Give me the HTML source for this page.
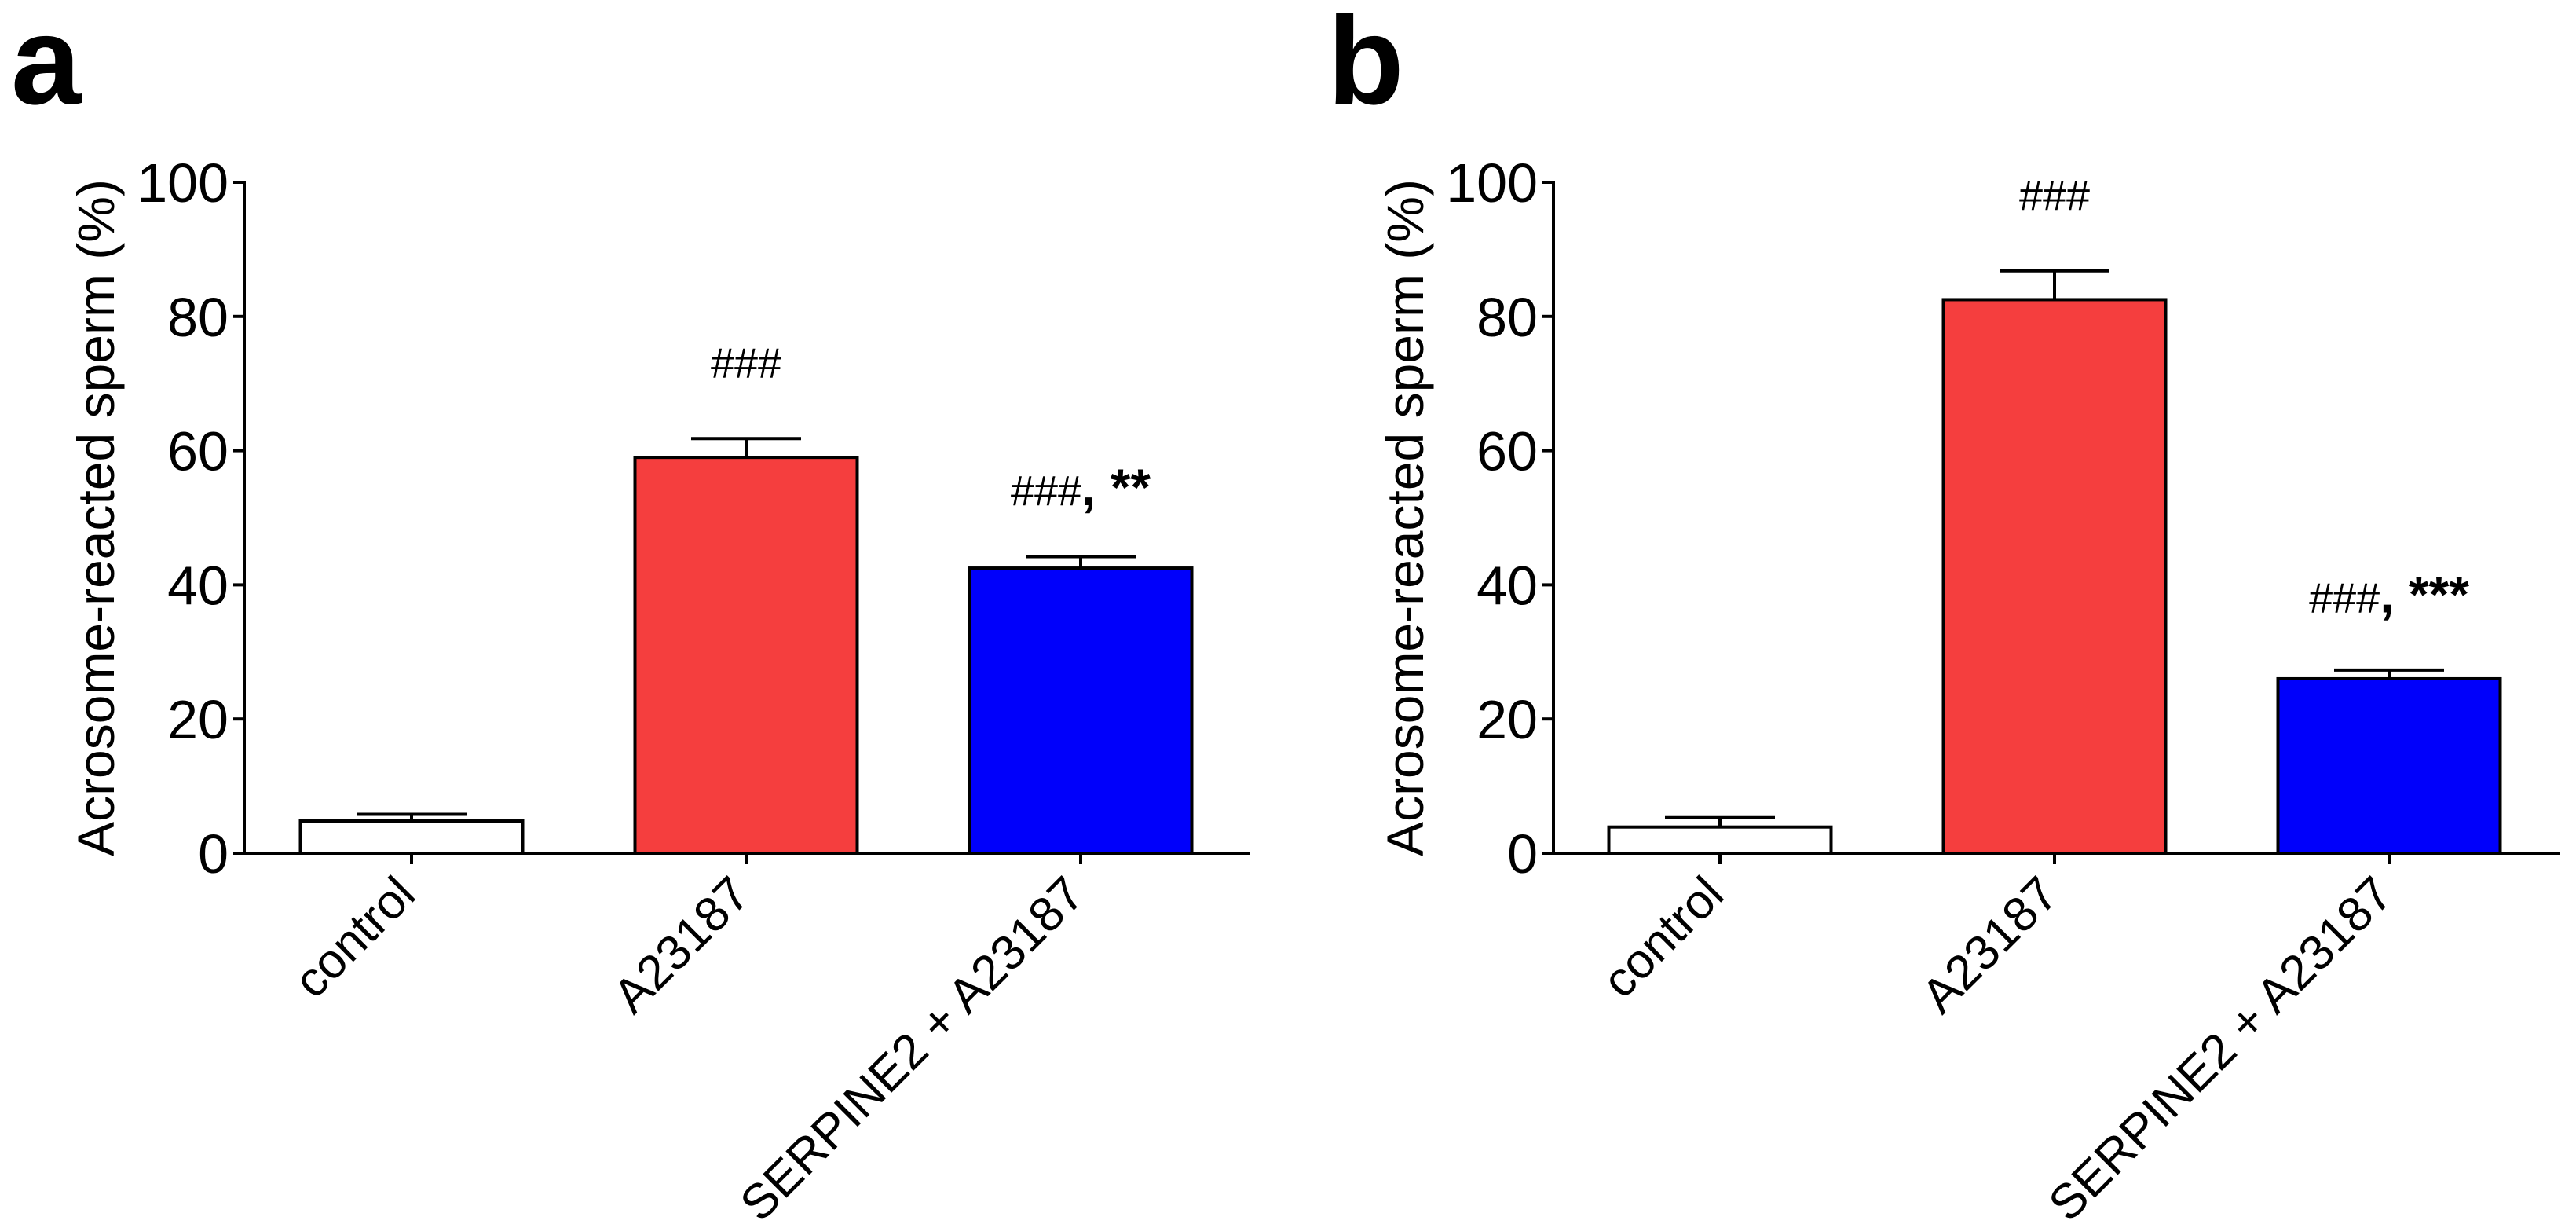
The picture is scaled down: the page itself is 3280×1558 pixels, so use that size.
<!DOCTYPE html>
<html><head><meta charset="utf-8"><style>
html,body{margin:0;padding:0;background:#fff;}
svg{display:block;font-family:"Liberation Sans",Arial,sans-serif;}
</style></head><body>
<svg id="chart" width="3280" height="1558" viewBox="0 0 3280 1558" xmlns="http://www.w3.org/2000/svg">
<text x="14" y="132" font-size="160" font-weight="bold">a</text>
<text x="1690" y="132" font-size="160" font-weight="bold">b</text>
</svg>
<script>
const categories = ["control", "A23187", "SERPINE2 + A23187"];
const valuesA = [4.8, 59, 42.5];
const errorsA = [1.0, 2.8, 1.7];
const valuesB = [3.9, 82.5, 26];
const errorsB = [1.4, 4.3, 1.3];
const annotA = ["", "###", "###, **"];
const annotB = ["", "###", "###, ***"];
const annotYA = [0, 73, 54];
const annotYB = [0, 98, 38];
const yTicks = [0, 20, 40, 60, 80, 100];
const colors = ["#ffffff", "#f53e3e", "#0000fb"];

const svg = document.getElementById('chart');
const NS = "http://www.w3.org/2000/svg";
function mk(tag, attrs, parent) {
  const e = document.createElementNS(NS, tag);
  for (const k in attrs) e.setAttribute(k, attrs[k]);
  (parent || svg).appendChild(e);
  return e;
}

function panel(id, axisX, xEnd, firstCenter, values, errors, annots, annotY) {
  const y0 = 1086, y100 = 232;
  const yScale = v => y0 - (v / 100) * (y0 - y100);
  const spacing = 426, bw = 283;
  const xScale = i => firstCenter + i * spacing;
  const g = mk('g', {});
  
  

  const yax = mk('line', {x1: axisX, y1: y100 - 2, x2: axisX, y2: y0, stroke: '#000', 'stroke-width': 4}, g);
  
  
  const xax = mk('line', {x1: axisX - 12, y1: y0, x2: xEnd, y2: y0, stroke: '#000', 'stroke-width': 4}, g);
  
  

  yTicks.forEach(t => {
    const y = yScale(t);
    mk('line', {x1: axisX - 14, y1: y, x2: axisX, y2: y, stroke: '#000', 'stroke-width': 4}, g);
    const tl = mk('text', {x: axisX - 20, y: y + 25, 'font-size': 70, 'text-anchor': 'end'}, g);
    
    
    tl.textContent = t;
  });

  const ty = mk('text', {x: 0, y: 0, 'font-size': 66, 'text-anchor': 'middle',
    transform: `translate(${axisX - 166},${(y0 + y100) / 2}) rotate(-90)`}, g);
  
  
  ty.textContent = 'Acrosome-reacted sperm (%)';

  categories.forEach((c, i) => {
    const cx = xScale(i);
    const top = yScale(values[i]);
    const eTop = yScale(values[i] + errors[i]);
    const el = mk('line', {x1: cx, y1: top, x2: cx, y2: eTop, stroke: '#000', 'stroke-width': 4}, g);
    
    
    mk('line', {x1: cx - 70, y1: eTop, x2: cx + 70, y2: eTop, stroke: '#000', 'stroke-width': 4}, g);
    const r = mk('rect', {x: cx - bw / 2, y: top, width: bw, height: y0 - top, fill: colors[i], stroke: '#000', 'stroke-width': 4}, g);
    
    
    mk('line', {x1: cx, y1: y0, x2: cx, y2: y0 + 14, stroke: '#000', 'stroke-width': 4}, g);
    const lbl = mk('text', {x: 0, y: 0, 'font-size': 62, 'text-anchor': 'end',
      transform: `translate(${cx + 8},${y0 + 56}) rotate(-45)`}, g);
    
    
    lbl.textContent = c;
    if (annots[i]) {
      const a = mk('text', {x: cx, y: yScale(annotY[i]) + 18, 'font-size': 54, 'text-anchor': 'middle'}, g);
      
      
      const parts = annots[i].split(', ');
      const s1 = mk('tspan', {}, a); s1.textContent = parts[0];
      if (parts[1]) {
        const s2 = mk('tspan', {'font-weight': 'bold', 'font-size': 66}, a);
        s2.textContent = ', ' + parts[1];
      }
    }
  });
}
panel('a', 311, 1592, 524, valuesA, errorsA, annotA, annotYA);
panel('b', 1978, 3259, 2190, valuesB, errorsB, annotB, annotYB);
</script>
</body></html>
